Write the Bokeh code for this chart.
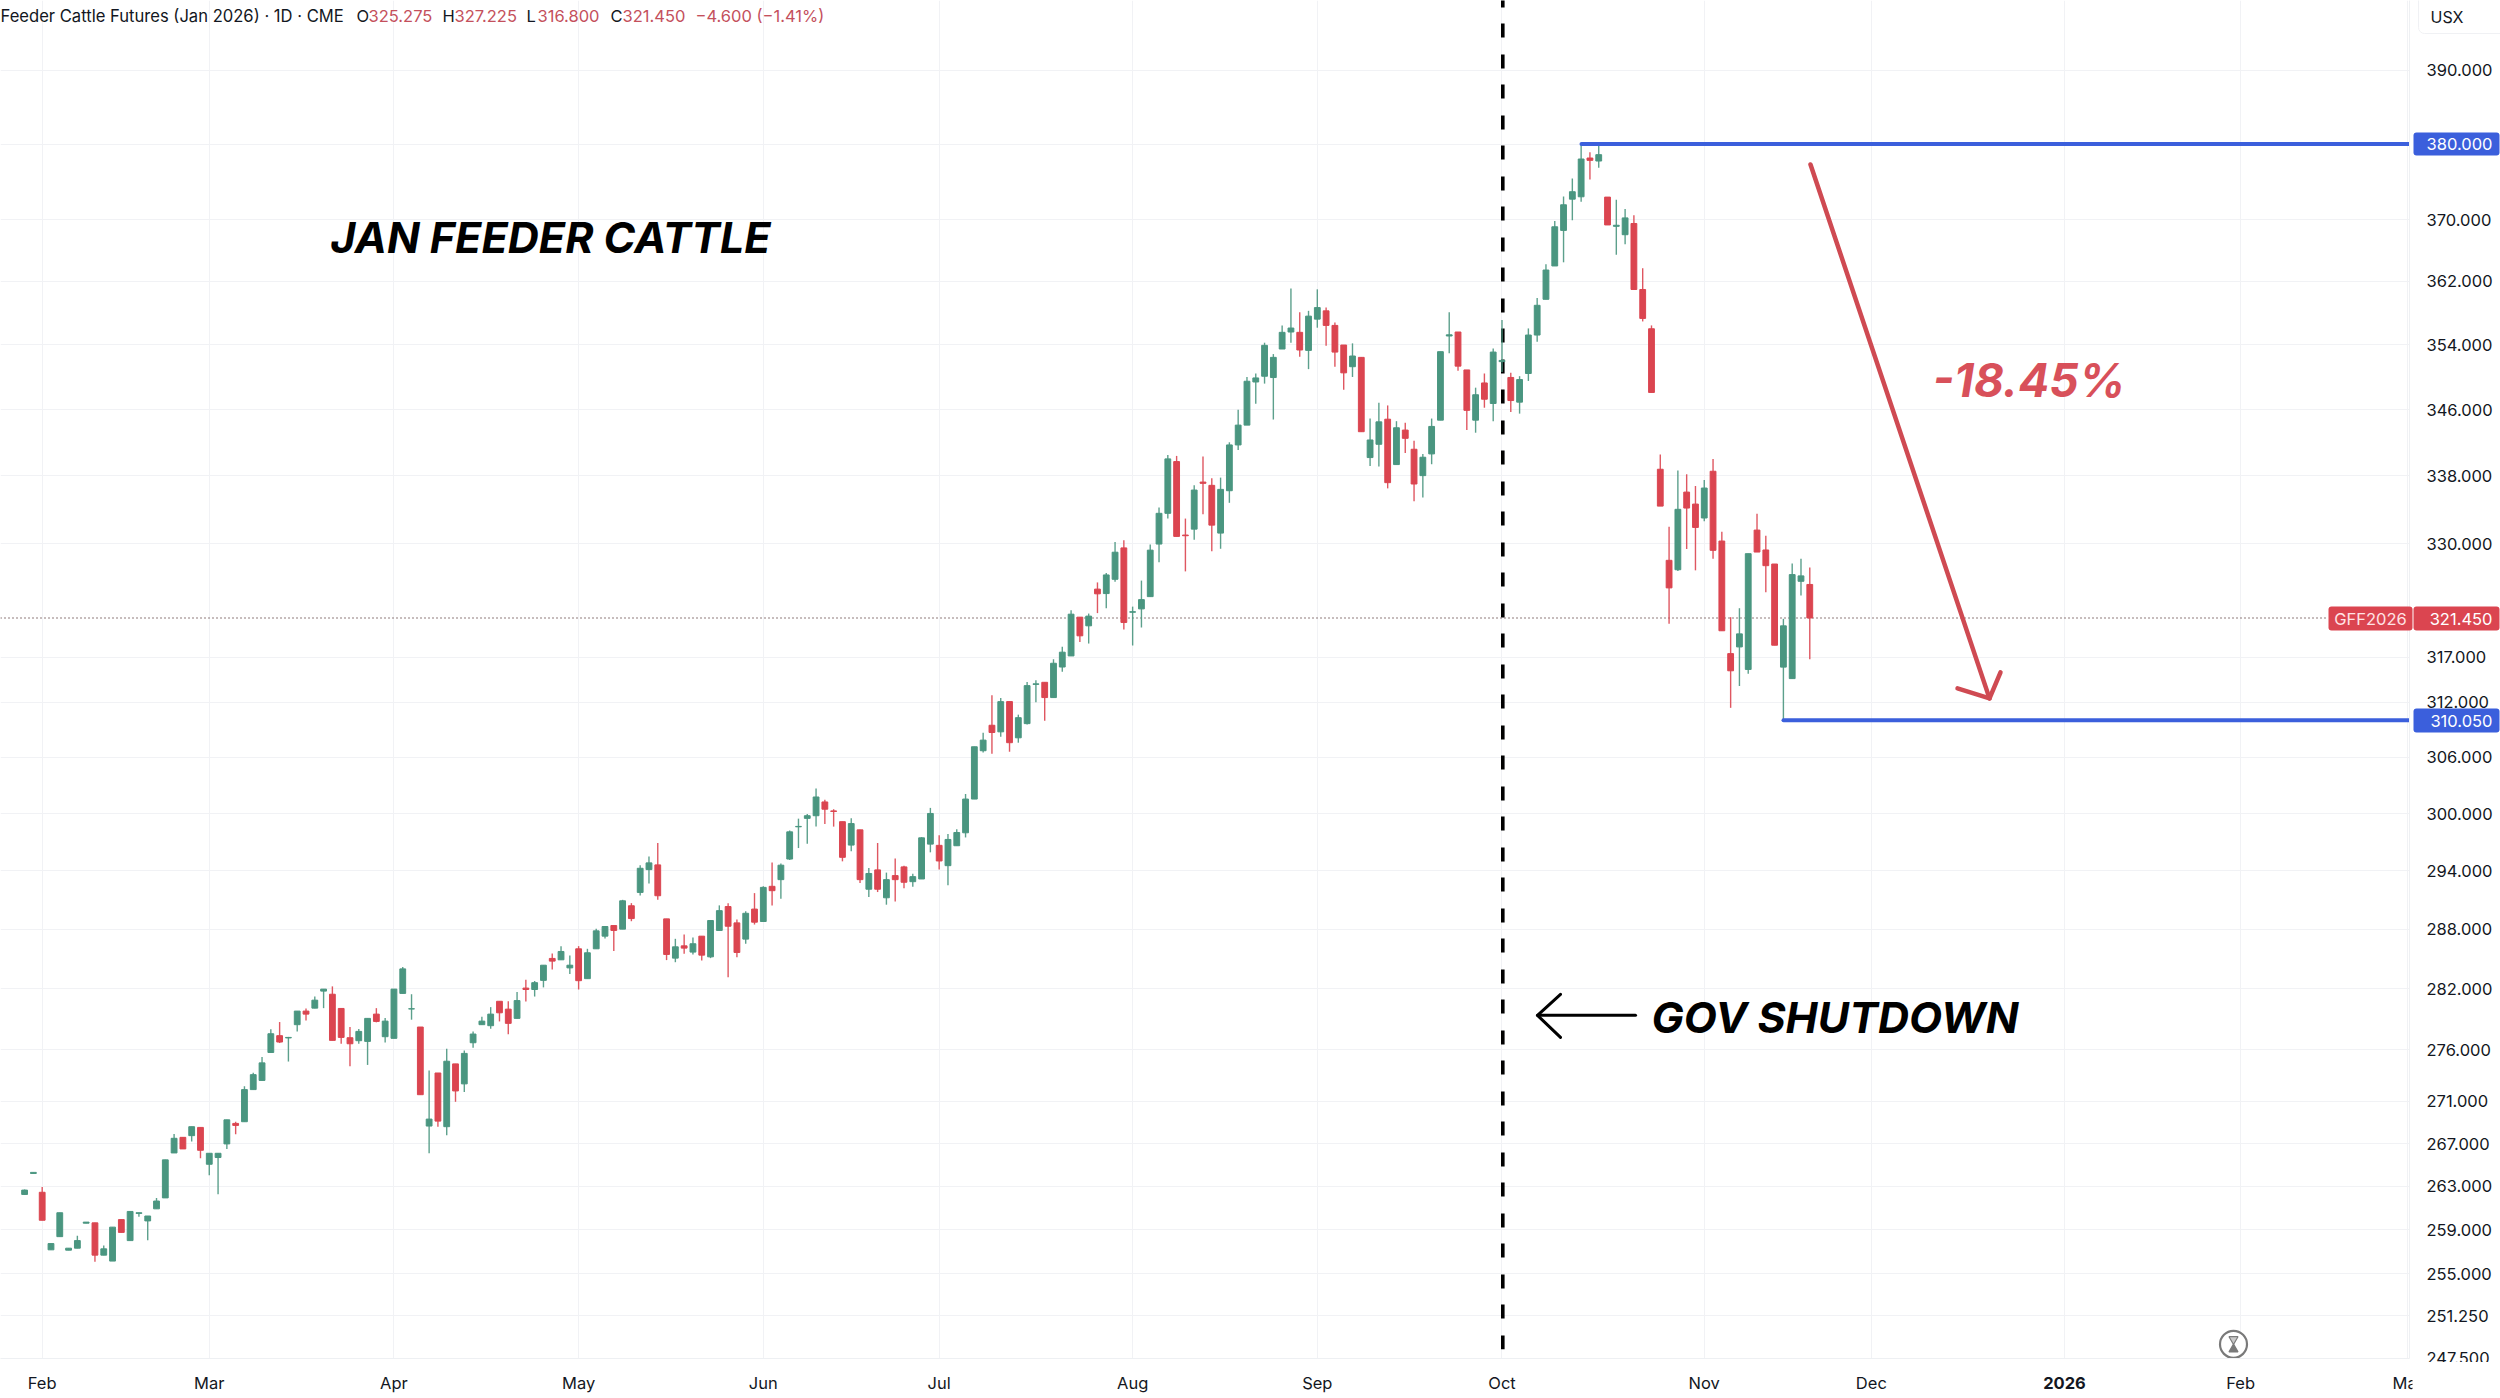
import math
from bokeh.plotting import figure
from bokeh.models import (ColumnDataSource, Range1d, FixedTicker, PrintfTickFormatter, Label, BoxAnnotation)
from bokeh.embed import file_html
from bokeh.resources import INLINE

opens = [262.25,264.2,262.45,257.17,258.37,257.14,257.32,259.6,259.63,256.69,
256.15,259.93,258.01,260.5,259.81,260.92,261.93,266.12,267.59,267.75,
268.53,265.06,265.69,266.97,268.91,269.07,272.14,273.02,275.73,277.37,
277.15,278.45,279.79,280.08,281.77,281.46,280.05,277.17,276.88,276.81,
279.49,277.27,277.11,281.54,280.0,278.22,268.66,273.74,268.6,274.62,
272.69,276.68,278.45,278.35,280.76,279.98,279.07,282.07,281.93,282.84,
285.04,284.9,284.09,286.01,283.01,286.01,287.29,288.37,288.0,290.39,
291.76,294.12,294.61,289.05,285.07,286.31,285.68,287.29,285.2,287.87,
290.31,288.64,286.99,290.05,288.78,292.39,293.08,295.22,298.6,299.49,
299.77,301.23,300.28,299.14,296.68,298.28,292.09,294.09,291.21,293.5,
294.4,292.87,293.15,296.78,296.65,294.53,296.61,297.97,301.54,306.73,
309.5,308.78,312.1,308.13,309.68,314.0,314.23,312.54,315.93,317.17,
321.54,320.56,324.74,324.23,325.87,329.5,322.1,322.48,323.88,329.95,
333.55,339.7,331.0,331.69,337.25,336.86,331.23,336.22,341.7,344.1,
349.38,350.09,349.93,353.47,355.6,355.56,353.3,357.22,358.27,356.43,
353.97,351.27,352.43,340.18,341.78,344.82,339.34,343.5,341.18,338.02,
340.62,344.7,355.1,355.6,350.87,344.7,349.26,346.74,351.9,349.94,
346.9,350.43,355.22,359.73,363.99,368.59,372.68,372.99,378.13,377.73,
372.95,369.12,368.03,369.49,360.98,356.01,338.78,328.06,326.97,336.06,
334.64,333.0,338.54,330.3,317.43,318.18,315.66,331.58,329.26,327.63,
315.92,314.64,325.64,325.275]

highs = [262.7,264.3,262.95,257.74,260.56,257.32,258.46,259.7,259.63,257.56,
259.24,259.93,260.68,260.56,260.26,261.93,265.47,267.91,267.59,268.6,
268.53,266.09,266.09,269.25,269.07,272.46,273.77,275.28,277.99,278.71,
277.25,279.79,280.05,281.23,281.97,282.24,280.05,278.22,278.02,279.07,
280.08,279.1,281.97,284.19,281.46,278.22,273.97,273.74,276.09,274.62,
275.93,277.79,279.24,280.18,280.76,280.76,281.67,282.91,282.78,284.36,
285.54,286.28,285.34,286.28,286.01,288.03,288.27,288.37,291.0,290.66,
294.57,295.48,296.9,289.05,287.02,287.46,287.16,287.29,288.91,290.43,
290.66,288.98,289.82,291.69,292.39,294.86,294.75,298.21,299.46,299.94,
302.66,301.47,300.46,299.14,299.49,298.28,294.3,296.9,293.81,295.28,
294.51,293.68,297.51,300.6,297.72,297.83,298.35,302.08,307.16,308.67,
312.8,312.5,312.1,310.66,314.27,314.46,314.23,316.8,318.2,322.33,
321.54,321.95,325.51,326.6,330.18,330.4,322.74,325.72,329.9,334.25,
340.5,340.38,332.93,336.86,340.3,337.7,337.78,342.02,345.98,350.0,
350.43,354.26,352.84,356.43,361.1,358.1,358.27,361.0,358.68,356.8,
353.97,354.18,352.43,344.9,346.82,346.5,344.58,344.38,342.22,340.62,
344.9,353.14,358.1,355.6,350.87,348.68,350.43,353.55,357.1,350.51,
350.1,356.05,359.9,364.2,369.83,373.04,375.4,380.0,378.89,379.8,
372.95,372.6,371.38,370.56,363.7,356.43,340.54,331.97,338.62,338.18,
336.78,337.5,340.02,331.38,321.54,322.56,328.83,333.51,330.92,327.63,
321.35,327.69,328.24,327.225]

lows = [262.2,264.2,259.87,257.17,258.37,257.14,257.32,259.6,256.09,256.69,
256.15,258.76,258.01,260.2,258.04,260.92,261.93,266.12,266.5,267.19,
265.62,264.03,262.27,266.5,267.88,269.07,272.14,273.02,275.73,276.65,
274.85,277.79,278.87,280.08,280.08,276.91,276.58,274.39,276.58,274.52,
278.68,276.71,277.11,281.54,278.94,271.65,266.09,268.6,267.78,270.97,
271.91,276.19,278.45,278.05,278.77,277.5,279.07,280.73,281.23,282.14,
283.92,284.9,283.48,281.93,283.01,286.01,287.06,285.78,288.0,288.81,
291.45,292.67,291.0,284.87,284.66,285.51,285.44,284.83,285.07,287.87,
283.15,285.17,286.52,288.47,288.78,290.41,291.1,295.12,296.37,296.82,
298.62,298.9,298.62,294.98,296.03,292.74,291.3,291.8,290.5,290.83,
292.18,292.35,293.15,295.92,294.12,292.49,296.61,297.48,301.54,306.55,
306.4,308.24,306.62,307.6,309.57,312.02,310.0,312.54,315.4,317.17,
318.72,318.56,322.0,322.56,325.6,320.15,318.34,320.37,323.88,327.84,
332.93,330.84,326.78,330.45,333.44,329.1,329.4,334.79,341.1,344.1,
346.7,349.18,344.78,353.47,354.26,352.51,350.97,356.14,353.89,351.26,
348.43,350.0,343.3,339.18,339.1,336.5,339.34,340.74,334.98,335.42,
339.38,344.7,352.93,350.76,343.5,343.18,346.22,344.58,350.63,345.7,
345.5,349.51,354.39,359.73,363.99,364.46,369.92,372.33,375.27,376.84,
369.3,365.45,366.78,360.98,356.93,348.09,334.4,320.79,326.82,329.37,
326.9,332.62,328.25,320.0,311.41,313.82,315.18,329.02,324.38,318.37,
310.05,314.64,324.0,316.8]

closes = [262.65,264.3,259.87,257.74,260.56,257.32,258.01,259.7,256.69,257.26,
259.24,258.76,260.68,260.56,260.26,261.64,265.47,267.5,266.5,268.6,
266.37,266.09,266.09,269.25,268.72,272.14,273.58,274.72,277.56,276.75,
277.2,279.79,279.49,280.87,281.97,276.91,277.2,276.58,277.79,279.07,
278.77,278.8,281.97,283.99,280.02,271.65,269.32,269.13,274.88,272.01,
275.64,277.53,278.8,279.49,279.62,278.58,280.83,281.93,282.61,284.36,
284.77,285.74,284.36,282.81,285.61,287.83,288.27,287.87,290.9,289.08,
294.26,294.82,291.42,285.44,286.21,286.08,286.52,285.37,288.88,289.89,
288.3,285.64,289.62,288.71,292.28,291.94,294.58,298.07,298.64,299.77,
301.76,300.46,300.22,295.4,298.94,293.08,293.72,292.09,293.08,293.08,
292.81,293.39,297.44,300.01,295.02,297.27,298.0,301.54,307.16,307.88,
308.71,312.09,307.6,310.33,313.86,314.06,312.54,316.35,317.59,321.88,
319.43,321.66,324.2,326.37,329.0,320.94,322.16,323.54,329.24,333.55,
340.02,330.84,330.92,336.3,337.1,332.16,336.38,341.7,344.1,349.47,
349.88,353.93,352.43,355.56,356.1,353.35,357.6,358.68,356.43,353.09,
350.51,352.6,343.3,342.3,344.5,337.18,343.78,342.5,337.02,340.22,
343.94,353.14,355.25,351.34,345.9,347.81,347.26,353.09,352.05,347.1,
349.68,355.22,358.97,363.47,369.06,371.94,373.66,378.0,377.82,378.58,
369.3,369.26,370.22,360.98,357.31,348.09,334.4,324.88,334.02,334.17,
331.89,336.54,329.22,320.0,315.51,319.65,328.83,329.02,327.44,318.37,
320.56,326.41,326.26,321.45]

price_ticks = [390, 380, 370, 362, 354, 346, 338, 330, 317, 312, 306, 300, 294, 288,
               282, 276, 271, 267, 263, 259, 255, 251.25, 247.5]
month_bars = [3, 22, 43, 64, 85, 105, 127, 148, 169, 192, 211, 233, 253, 272]
month_names = ["Feb", "Mar", "Apr", "May", "Jun", "Jul", "Aug", "Sep", "Oct", "Nov", "Dec", "", "Feb", "Mar"]
last_price = 321.45
peak_price = 380.0
trough_price = 310.05

UP = "#4a9680"
DOWN = "#db4550"
BLUE = "#3b5fdc"
ARROW = "#cf4a52"
TEXT = "#131722"

# pixel <-> data helpers for the annotations only
def N(px):
    return (px - 24.1) / 8.794 + 1
def P(py):
    return 390 * math.exp(-(py - 70) / 2832.6)

W, H = 2500, 1398
FW, FH = 2409, 1358

p = figure(width=W, height=H, output_backend="svg", toolbar_location=None,
           y_axis_type="log", y_axis_location="right",
           x_range=Range1d(N(0), N(FW)), y_range=Range1d(247.49, P(0)),
           min_border_left=0, min_border_top=0, min_border_right=W - FW, min_border_bottom=H - FH,
           background_fill_color="white", border_fill_color="white", outline_line_color=None)
p.styles = {"position": "absolute", "left": "0px", "top": "0px"}

AX_FONT = "Inter"
AX_SIZE = "16.5px"

p.yaxis.ticker = FixedTicker(ticks=price_ticks)
p.yaxis.formatter = PrintfTickFormatter(format="%.3f")
p.yaxis.major_tick_line_color = None
p.yaxis.minor_tick_line_color = None
p.yaxis.axis_line_color = "#eef0f3"
p.yaxis.major_label_standoff = 11
p.yaxis.major_label_text_font = AX_FONT
p.yaxis.major_label_text_font_size = AX_SIZE
p.yaxis.major_label_text_color = TEXT

p.xaxis.ticker = FixedTicker(ticks=month_bars)
p.xaxis.major_label_overrides = {b: n for b, n in zip(month_bars, month_names)}
p.xaxis.major_tick_line_color = None
p.xaxis.minor_tick_line_color = None
p.xaxis.axis_line_color = "#eef0f3"
p.xaxis.major_label_standoff = 8
p.xaxis.major_label_text_font = AX_FONT
p.xaxis.major_label_text_font_size = AX_SIZE
p.xaxis.major_label_text_color = TEXT

p.xgrid.grid_line_color = "#f1f2f5"
p.ygrid.grid_line_color = "#f1f2f5"
p.xgrid.grid_line_width = 1
p.ygrid.grid_line_width = 1

# shutdown marker, under the candles
p.line([N(1502.3), N(1502.3)], [P(-7), P(1349)], line_color="black", line_width=3.6,
       line_dash="14 16 14 17")

# last-price dotted line
p.line([N(0), N(2328)], [last_price, last_price], line_color="#6a5050", line_width=1.4, line_dash="1 3")

bars = list(range(1, len(opens) + 1))
src = ColumnDataSource(dict(
    x=bars, o=opens, h=highs, l=lows, c=closes,
    top=[max(a, b) for a, b in zip(opens, closes)],
    bot=[min(a, b) for a, b in zip(opens, closes)],
    col=[UP if c >= o else DOWN for o, c in zip(opens, closes)],
))
p.segment("x", "h", "x", "l", source=src, line_color="col", line_width=1.4, line_alpha=0.9)
p.vbar("x", 0.66, "top", "bot", source=src, fill_color="col", line_color="col", line_width=1)

# support / resistance lines
p.line([N(1581), N(FW)], [peak_price, peak_price], line_color=BLUE, line_width=4, line_cap="round")
p.line([N(1783), N(FW)], [trough_price, trough_price], line_color=BLUE, line_width=4, line_cap="round")

# red arrow
p.multi_line([[N(1810), N(1989)], [N(1957), N(1989), N(2000)]],
             [[P(164), P(698)], [P(688), P(698), P(672)]],
             line_color=ARROW, line_width=4.5, line_cap="round", line_join="round")
# black arrow
p.multi_line([[N(1635), N(1537)], [N(1560), N(1537), N(1560)]],
             [[P(1015), P(1015)], [P(994), P(1015), P(1037)]],
             line_color="black", line_width=3, line_cap="round", line_join="round")

# hourglass badge
p.scatter([N(2233)], [P(1344)], marker="circle", size=27, fill_color="white", line_color="#7a7a7a", line_width=2.2)
p.scatter([N(2233)], [P(1339)], marker="inverted_triangle", size=9, fill_color="#c8c8c8", line_color="#7a7a7a", line_width=1.2)
p.scatter([N(2233)], [P(1349)], marker="triangle", size=9, fill_color="#7a7a7a", line_color="#7a7a7a", line_width=1.2)

# transparent page-sized layer for what sits outside the main plot frame
over = figure(width=W, height=H, output_backend="svg", toolbar_location=None,
              x_axis_type=None, y_axis_type=None,
              x_range=Range1d(0, W), y_range=Range1d(H, 0),
              min_border=0, min_border_left=0, min_border_right=0, min_border_top=0, min_border_bottom=0,
              background_fill_alpha=0, border_fill_alpha=0, outline_line_color=None)
over.styles = {"position": "absolute", "left": "0px", "top": "0px", "pointer-events": "none"}

def box(l, r, t, b, color, line=None, radius=3):
    over.add_layout(BoxAnnotation(left=l, right=r, top=t, bottom=b, left_units="canvas", right_units="canvas",
                                  top_units="canvas", bottom_units="canvas", fill_color=color, fill_alpha=1,
                                  line_color=line, line_alpha=1 if line else 0, border_radius=radius))

def label(px, py, text, size, color=TEXT, font="Inter", style="normal", align="left"):
    over.add_layout(Label(x=px, y=py, x_units="canvas", y_units="canvas", text=text, text_font=font,
                          text_font_size=f"{size}px", text_color=color, text_font_style=style,
                          text_align=align, text_baseline="middle"))

# clip of the last labels in the corner
box(2412, 2500, 1361.5, 1398, "white", radius=0)
label(2064, 1382, "2026", 16.5, style="bold", align="center")

# USX
box(2418, 2510, -10, 33, "white", line="#f0f1f4", radius=6)
label(2430, 16, "USX", 16)

# price tags
box(2413, 2499, 132, 155, BLUE)
label(2492, 143.5, "380.000", 16.5, "white", align="right")
box(2413, 2499, 708, 732, BLUE)
label(2492, 720, "310.050", 16.5, "white", align="right")
box(2328, 2412, 606, 630, DOWN)
box(2413, 2499, 606, 630, DOWN)
label(2370, 618, "GFF2026", 16.5, "#ffe3e5", align="center")
label(2492, 618, "321.450", 16.5, "white", align="right")

# header
label(0, 15, "Feeder Cattle Futures (Jan 2026) · 1D · CME", 16.6)
HRED = "#c4505c"
for hx, nx, ltr, val in [(356, 368, "O", "325.275"), (442, 454, "H", "327.225"),
                         (526, 537, "L", "316.800"), (610, 622, "C", "321.450")]:
    label(hx, 15, ltr, 16.5)
    label(nx, 15, val, 16.5, HRED)
label(695, 15, "−4.600 (−1.41%)", 16.5, HRED)

# big annotations
label(330, 236, "JAN FEEDER CATTLE", 43, "black", "Inter", "bold italic")
label(1651, 1016, "GOV SHUTDOWN", 43, "black", "Inter", "bold italic")
label(1932, 379, "-18.45%", 46, "#d8505a", "Inter", "bold italic")

open("out.html", "w").write(file_html([p, over], INLINE))
